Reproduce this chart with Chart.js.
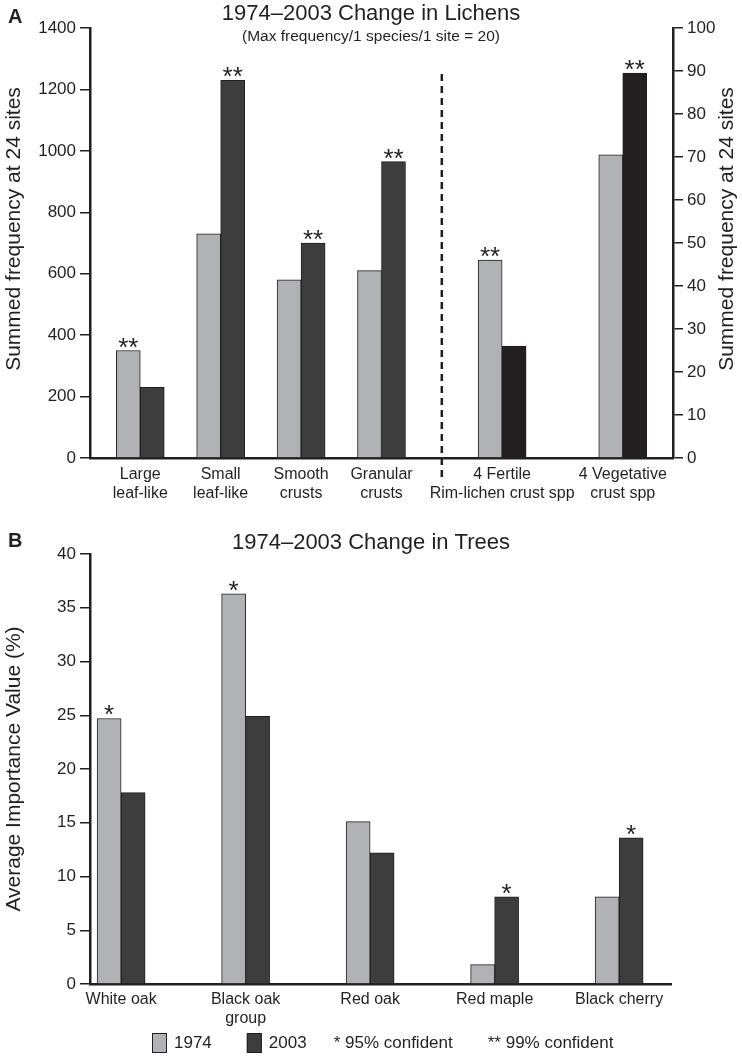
<!DOCTYPE html>
<html>
<head>
<meta charset="utf-8">
<script src="https://cdn.jsdelivr.net/npm/chart.js@4"></script>
<style>
  body { margin: 0; background: #fff; }
  canvas { display: block; }
</style>
</head>
<body>
<canvas id="lichenChart" width="742" height="515"></canvas>
<canvas id="treeChart" width="742" height="545"></canvas>
<script>
// ---- data ----
const lichenLabels = [['Large', 'leaf-like'], ['Small', 'leaf-like'], ['Smooth', 'crusts'],
    ['Granular', 'crusts'], ['4 Fertile', 'Rim-lichen crust spp'], ['4 Vegetative', 'crust spp']];
// first four groups on the left axis
const lichen1974 = [350, 730, 580, 610];
const lichen2003 = [230, 1230, 700, 965];
// the two rim-lichen groups on the right axis
const rim1974 = [46, 70.5];
const rim2003 = [26, 89.5];
const lichenStars = ['1974', '2003', '2003', '2003', '1974', '2003'];

const treeLabels = ['White oak', ['Black oak', 'group'], 'Red oak', 'Red maple', 'Black cherry'];
const tree1974 = [24.7, 36.3, 15.1, 1.8, 8.1];
const tree2003 = [17.8, 24.9, 12.2, 8.1, 13.6];
const treeStars = ['1974', '1974', null, '2003', '2003'];

// ---- layout: groups sit on a grid of narrow category slots ----
const lichenSlots = [2, 6, 10, 14, 20, 26];
const lichenSlotCount = 29;
const dividerSlot = 17;
const treeSlots = [1, 7, 13, 19, 25];
const treeSlotCount = 28;

const ink = '#231f20';
const grey = '#b1b2b5';
const dark = '#3d3d3d';
const black = '#231f20';
const family = '"Liberation Sans", Arial, Helvetica, sans-serif';

Chart.defaults.font.family = family;
Chart.defaults.color = ink;

// put values into their slots, blanks elsewhere
function spread(values, slots, count, first, blank) {
    const out = new Array(count).fill(blank);
    values.forEach(function (v, i) { out[slots[first + i]] = v; });
    return out;
}

function barSet(label, values, slots, count, first, color, axis) {
    return {
        label: label,
        data: spread(values, slots, count, first, null),
        backgroundColor: color,
        borderColor: ink,
        borderWidth: 1,
        barThickness: 24,
        skipNull: true,
        yAxisID: axis
    };
}

function yAxis(pos, max, step, width) {
    return {
        position: pos, min: 0, max: max,
        ticks: {
            stepSize: step, color: ink, font: { size: 17 }, padding: 4,
            callback: function (v) { return String(v); }
        },
        grid: { drawOnChartArea: false, drawTicks: true, tickLength: 10, color: ink, lineWidth: 1.5 },
        border: { color: ink, width: 2.5 },
        afterFit: function (s) { s.width = width; }
    };
}

function xAxis(height, pad) {
    return {
        grid: { display: false, drawTicks: false },
        border: { display: true, color: ink, width: 2.5 },
        ticks: { autoSkip: false, maxRotation: 0, minRotation: 0, color: ink, font: { size: 16 }, padding: pad },
        afterFit: function (s) { s.height = height; }
    };
}

// asterisks above the significant bars
const starPlugin = {
    id: 'stars',
    afterDatasetsDraw(chart, args, opts) {
        const ctx = chart.ctx;
        ctx.save();
        ctx.fillStyle = ink;
        ctx.font = '26px ' + family;
        ctx.textAlign = 'center';
        ctx.textBaseline = 'alphabetic';
        opts.marks.forEach(function (m) {
            const bar = chart.getDatasetMeta(m.dataset).data[m.index];
            ctx.fillText(m.text, bar.x, bar.y + 5);
        });
        ctx.restore();
    }
};

// titles, panel letters, axis titles, divider, legend
const textPlugin = {
    id: 'texts',
    afterDraw(chart, args, opts) {
        const ctx = chart.ctx;
        const area = chart.chartArea;
        ctx.save();
        ctx.fillStyle = ink;
        ctx.textBaseline = 'middle';

        ctx.font = 'bold 20px ' + family;
        ctx.textAlign = 'left';
        ctx.fillText(opts.letter, 8, opts.letterY);

        ctx.font = '22px ' + family;
        ctx.textAlign = 'center';
        ctx.fillText(opts.title, chart.width / 2, opts.titleY);
        if (opts.subtitle) {
            ctx.font = '15.5px ' + family;
            ctx.fillText(opts.subtitle, chart.width / 2, opts.subtitleY);
        }

        ctx.font = '21px ' + family;
        opts.axisTitles.forEach(function (t) {
            ctx.save();
            ctx.translate(t.x, t.y);
            ctx.rotate(-Math.PI / 2);
            ctx.fillText(t.text, 0, 0);
            ctx.restore();
        });

        if (opts.divider) {
            const x = chart.scales.x.getPixelForValue(opts.divider.slot);
            ctx.strokeStyle = ink;
            ctx.lineWidth = 2.5;
            ctx.setLineDash([7, 5]);
            ctx.beginPath();
            ctx.moveTo(x, chart.scales.y.getPixelForValue(opts.divider.top));
            ctx.lineTo(x, area.bottom + 20);
            ctx.stroke();
            ctx.setLineDash([]);
        }

        if (opts.legend) {
            const L = opts.legend;
            let x = L.x;
            ctx.font = '17px ' + family;
            ctx.textAlign = 'left';
            L.items.forEach(function (it) {
                if (it.color) {
                    ctx.fillStyle = it.color;
                    ctx.fillRect(x, L.y - 10, 15, 20);
                    ctx.strokeStyle = ink;
                    ctx.lineWidth = 1;
                    ctx.strokeRect(x + 0.5, L.y - 9.5, 14, 19);
                    x += 22;
                }
                ctx.fillStyle = ink;
                ctx.fillText(it.text, x, L.y);
                x += ctx.measureText(it.text).width + it.gap;
            });
        }
        ctx.restore();
    }
};

document.addEventListener('DOMContentLoaded', function () {
    // ---------- A: lichens ----------
    const lichenMarks = lichenStars.map(function (s, i) {
        const base = i < 4 ? 0 : 2;
        return { dataset: base + (s === '1974' ? 0 : 1), index: lichenSlots[i], text: '**' };
    });

    new Chart(document.getElementById('lichenChart'), {
        type: 'bar',
        data: {
            labels: spread(lichenLabels, lichenSlots, lichenSlotCount, 0, ''),
            datasets: [
                barSet('1974', lichen1974, lichenSlots, lichenSlotCount, 0, grey, 'y'),
                barSet('2003', lichen2003, lichenSlots, lichenSlotCount, 0, dark, 'y'),
                barSet('1974', rim1974, lichenSlots, lichenSlotCount, 4, grey, 'y1'),
                barSet('2003', rim2003, lichenSlots, lichenSlotCount, 4, black, 'y1')
            ]
        },
        options: {
            responsive: false,
            animation: false,
            layout: { padding: { top: 28, right: 0, bottom: 0, left: 0 } },
            scales: {
                x: xAxis(57, 7),
                y: yAxis('left', 1400, 200, 90),
                y1: yAxis('right', 100, 10, 69)
            },
            plugins: {
                legend: { display: false },
                tooltip: { enabled: false },
                stars: { marks: lichenMarks },
                texts: {
                    letter: 'A', letterY: 17,
                    title: '1974\u20132003 Change in Lichens', titleY: 14,
                    subtitle: '(Max frequency/1 species/1 site = 20)', subtitleY: 37,
                    axisTitles: [
                        { text: 'Summed frequency at 24 sites', x: 14, y: 229 },
                        { text: 'Summed frequency at 24 sites', x: 727, y: 229 }
                    ],
                    divider: { slot: dividerSlot, top: 1250 }
                }
            }
        },
        plugins: [starPlugin, textPlugin]
    });

    // ---------- B: trees ----------
    const treeMarks = [];
    treeStars.forEach(function (s, i) {
        if (s) treeMarks.push({ dataset: s === '1974' ? 0 : 1, index: treeSlots[i], text: '*' });
    });

    new Chart(document.getElementById('treeChart'), {
        type: 'bar',
        data: {
            labels: spread(treeLabels, treeSlots, treeSlotCount, 0, ''),
            datasets: [
                barSet('1974', tree1974, treeSlots, treeSlotCount, 0, grey, 'y'),
                barSet('2003', tree2003, treeSlots, treeSlotCount, 0, dark, 'y')
            ]
        },
        options: {
            responsive: false,
            animation: false,
            layout: { padding: { top: 39, right: 71, bottom: 0, left: 0 } },
            scales: {
                x: xAxis(76, 6),
                y: yAxis('left', 40, 5, 90)
            },
            plugins: {
                legend: { display: false },
                tooltip: { enabled: false },
                stars: { marks: treeMarks },
                texts: {
                    letter: 'B', letterY: 26,
                    title: '1974\u20132003 Change in Trees', titleY: 28,
                    axisTitles: [
                        { text: 'Average Importance Value (%)', x: 14, y: 254 }
                    ],
                    legend: {
                        x: 152, y: 528,
                        items: [
                            { text: '1974', color: grey, gap: 35 },
                            { text: '2003', color: dark, gap: 27 },
                            { text: '* 95% confident', gap: 35 },
                            { text: '** 99% confident', gap: 0 }
                        ]
                    }
                }
            }
        },
        plugins: [starPlugin, textPlugin]
    });
});
</script>
</body>
</html>
